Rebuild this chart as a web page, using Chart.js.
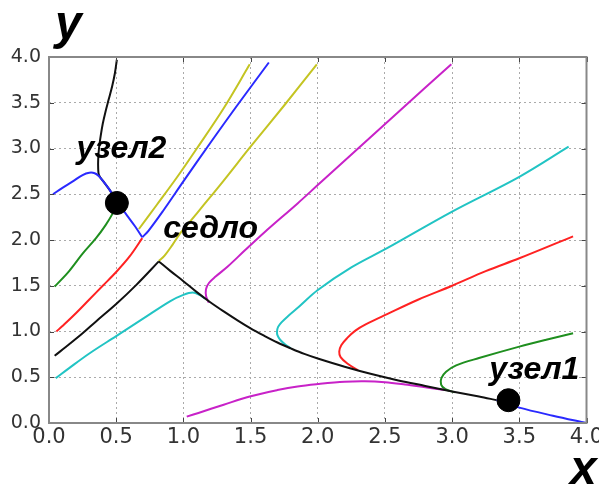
<!DOCTYPE html>
<html>
<head>
<meta charset="utf-8">
<script src="https://cdn.jsdelivr.net/npm/chart.js@4"></script>
<style>
  html, body { margin: 0; padding: 0; background: #fff; }
  #wrap { width: 599px; height: 486px; position: relative; }
</style>
</head>
<body>
<div id="wrap"><canvas id="c" width="599" height="486"></canvas></div>
<script>
// ---- tick labels ----
const xTicks = [0.0, 0.5, 1.0, 1.5, 2.0, 2.5, 3.0, 3.5, 4.0];
const yTicks = [0.0, 0.5, 1.0, 1.5, 2.0, 2.5, 3.0, 3.5, 4.0];

// ---- trajectories [x, y] ----
const blackTop = [[0.505,3.97],[0.49,3.82],[0.47,3.68],[0.445,3.54],[0.42,3.40],[0.40,3.27],[0.385,3.14],[0.372,3.0],[0.366,2.88],[0.366,2.78],[0.372,2.71],[0.41,2.63],[0.45,2.55],[0.51,2.41]];
const blackLeft = [[0.042,0.735],[0.15,0.86],[0.25,0.98],[0.35,1.11],[0.5,1.30],[0.65,1.51],[0.817,1.766]];
const blackRight = [[0.817,1.766],[0.9,1.665],[1.0,1.55],[1.1,1.43],[1.2,1.32],[1.3,1.22],[1.4,1.125],[1.5,1.035],[1.6,0.955],[1.7,0.88],[1.8,0.815],[1.9,0.755],[2.0,0.705],[2.2,0.615],[2.4,0.535],[2.6,0.465],[2.8,0.405],[3.0,0.345],[3.2,0.29],[3.33,0.25]];
const blueA = [[0.03,2.50],[0.10,2.57],[0.177,2.64],[0.25,2.71],[0.30,2.735],[0.34,2.73],[0.37,2.70],[0.41,2.63],[0.45,2.55],[0.51,2.41],[0.58,2.27],[0.64,2.15],[0.694,2.03]];
const blueB = [[0.694,2.03],[0.74,2.10],[0.85,2.32],[1.0,2.64],[1.2,3.06],[1.4,3.47],[1.636,3.94]];
const blueC = [[3.33,0.25],[3.5,0.168],[3.75,0.08],[4.0,0.0]];
const green1 = [[0.042,1.49],[0.15,1.66],[0.25,1.85],[0.35,2.02],[0.42,2.16],[0.47,2.28],[0.505,2.39]];
const red1 = [[0.055,1.0],[0.1,1.06],[0.2,1.2],[0.3,1.35],[0.4,1.5],[0.5,1.65],[0.6,1.82],[0.694,2.02]];
const cyan1 = [[0.05,0.49],[0.15,0.6],[0.3,0.76],[0.5,0.95],[0.7,1.14],[0.9,1.33],[1.0,1.40],[1.07,1.425],[1.12,1.40],[1.16,1.36]];
const yellow1 = [[0.669,2.12],[0.8,2.38],[0.95,2.68],[1.1,3.0],[1.3,3.44],[1.494,3.92]];
const yellow2 = [[0.817,1.77],[0.86,1.83],[0.92,1.95],[0.98,2.08],[1.06,2.22],[1.15,2.38],[1.3,2.65],[1.5,3.02],[1.75,3.47],[1.993,3.92]];
const magentaUp = [[1.19,1.315],[1.17,1.38],[1.168,1.46],[1.19,1.53],[1.24,1.60],[1.33,1.71],[1.46,1.89],[1.6,2.08],[1.85,2.40],[2.0,2.60],[2.3,3.0],[2.6,3.4],[2.994,3.92]];
const magentaLow = [[1.025,0.07],[1.112,0.11],[1.3,0.2],[1.494,0.29],[1.7,0.36],[1.85,0.40],[2.0,0.425],[2.2,0.45],[2.35,0.455],[2.5,0.445],[2.65,0.42],[2.8,0.39],[2.95,0.36]];
const cyan2 = [[1.80,0.815],[1.76,0.855],[1.72,0.91],[1.70,0.96],[1.697,1.0],[1.705,1.05],[1.73,1.10],[1.78,1.17],[1.86,1.27],[1.998,1.45],[2.25,1.70],[2.516,1.91],[3.0,2.31],[3.5,2.69],[3.867,3.02]];
const red2 = [[2.30,0.575],[2.22,0.65],[2.17,0.72],[2.16,0.78],[2.175,0.85],[2.22,0.93],[2.28,1.01],[2.36,1.08],[2.516,1.19],[2.75,1.35],[3.0,1.50],[3.25,1.66],[3.5,1.80],[3.9,2.04]];
const green2 = [[3.02,0.335],[2.95,0.37],[2.918,0.42],[2.92,0.49],[2.955,0.56],[3.03,0.63],[3.2,0.71],[3.5,0.835],[3.7,0.91],[3.9,0.98]];

// ---- equilibrium points ----
const nodes = [[0.505,2.405],[3.419,0.249]];

// ---- annotation labels ----
const noteTexts = ['узел2', 'седло', 'узел1'];
const noteX = [0.204, 0.85, 3.277];
const noteY = [2.90, 2.025, 0.484];

const C = { k:'#111111', b:'#2a2aff', g:'#1f8f1f', r:'#ff2222', c:'#22c4c4', m:'#c822c8', y:'#c4c422' };
const toPts = arr => arr.map(p => ({x:p[0], y:p[1]}));
function line(data, color, order) {
  return { data: toPts(data), borderColor: color, backgroundColor: color, borderWidth: 2,
           showLine: true, pointRadius: 0, pointHoverRadius: 0, tension: 0.35, fill: false, order: order };
}

const datasets = [
  { data: toPts(nodes), backgroundColor: '#000', borderColor: '#000', pointRadius: 11.5, showLine: false, order: 0 },
  line(blueA, C.b, 2), line(blueB, C.b, 2), line(blueC, C.b, 2),
  line(blackTop, C.k, 3), line(blackLeft, C.k, 3), line(blackRight, C.k, 3),
  line(green1, C.g, 5), line(red1, C.r, 5), line(cyan1, C.c, 5),
  line(yellow1, C.y, 5), line(yellow2, C.y, 5),
  line(magentaUp, C.m, 5), line(magentaLow, C.m, 5),
  line(cyan2, C.c, 5), line(red2, C.r, 5), line(green2, C.g, 5)
];

const decor = {
  id: 'decor',
  afterDatasetsDraw(chart) {
    const { ctx, chartArea: a, scales: { x, y } } = chart;
    ctx.save();
    ctx.strokeStyle = '#444'; ctx.lineWidth = 1;
    ctx.beginPath();
    xTicks.forEach(v => { const p = Math.round(x.getPixelForValue(v)) + 0.5;
      ctx.moveTo(p, a.bottom); ctx.lineTo(p, a.bottom - 5); ctx.moveTo(p, a.top); ctx.lineTo(p, a.top + 5); });
    yTicks.forEach(v => { const p = Math.round(y.getPixelForValue(v)) + 0.5;
      ctx.moveTo(a.left, p); ctx.lineTo(a.left + 5, p); ctx.moveTo(a.right, p); ctx.lineTo(a.right - 5, p); });
    ctx.stroke();
    ctx.strokeStyle = '#888'; ctx.lineWidth = 2;
    ctx.strokeRect(a.left, a.top, a.right - a.left, a.bottom - a.top);

    ctx.fillStyle = '#000';
    ctx.textAlign = 'left'; ctx.textBaseline = 'alphabetic';
    ctx.font = 'italic bold 32px "Liberation Sans", Arial, sans-serif';
    noteTexts.forEach((t, i) => ctx.fillText(t, x.getPixelForValue(noteX[i]), y.getPixelForValue(noteY[i])));
    ctx.font = 'italic bold 48px "Liberation Sans", Arial, sans-serif';
    ctx.fillText('y', 55, 39);
    ctx.fillText('x', 570, 484);
    ctx.restore();
  }
};

new Chart(document.getElementById('c'), {
  type: 'scatter',
  data: { datasets },
  options: {
    responsive: false, animation: false, devicePixelRatio: 1,
    layout: { padding: { left: 0, right: 8, top: 57, bottom: 23 } },
    plugins: { legend: { display: false }, tooltip: { enabled: false } },
    scales: {
      x: {
        type: 'linear', min: 0, max: 4,
        afterBuildTicks: s => { s.ticks = xTicks.map(v => ({ value: v })); },
        afterFit: s => { s.height = 40; s.paddingLeft = 0; s.paddingRight = 0; },
        grid: { color: '#aaa', lineWidth: 1, drawTicks: false },
        border: { display: false, dash: [2, 3] },
        ticks: { color: '#333', padding: 2, maxRotation: 0, autoSkip: false,
                 font: { family: '"DejaVu Sans"', size: 21 }, callback: v => Number(v).toFixed(1) }
      },
      y: {
        type: 'linear', min: 0, max: 4,
        afterBuildTicks: s => { s.ticks = yTicks.map(v => ({ value: v })); },
        afterFit: s => { s.width = 49; s.paddingTop = 0; s.paddingBottom = 0; },
        grid: { color: '#aaa', lineWidth: 1, drawTicks: false },
        border: { display: false, dash: [2, 3] },
        ticks: { color: '#333', padding: 8, autoSkip: false,
                 font: { family: '"DejaVu Sans"', size: 19 }, callback: v => Number(v).toFixed(1) }
      }
    }
  },
  plugins: [decor]
});
</script>
</body>
</html>
